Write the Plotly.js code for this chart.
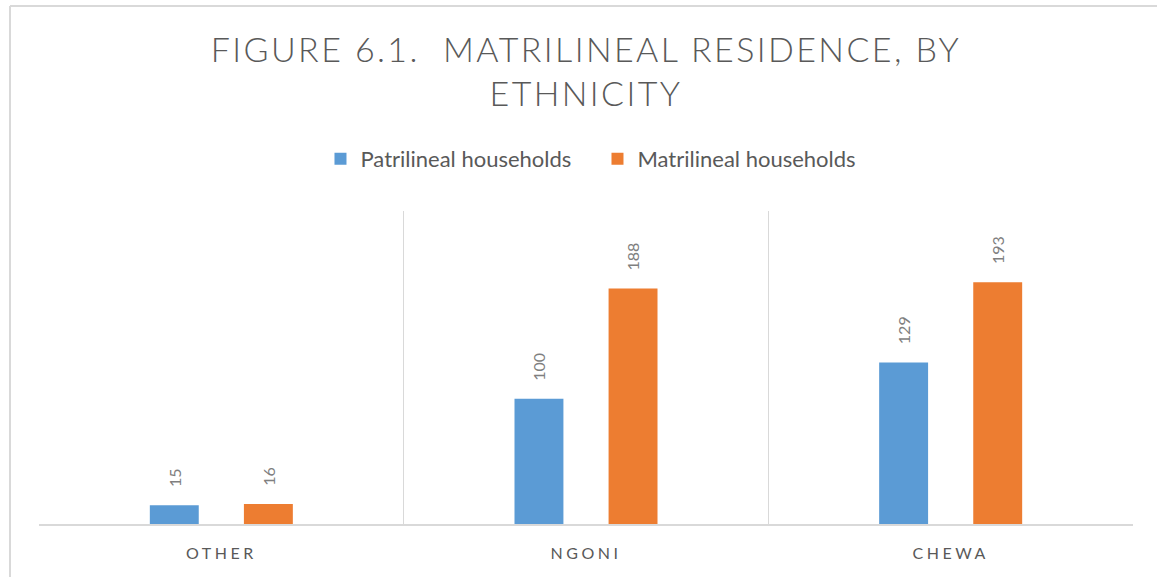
<!DOCTYPE html>
<html>
<head>
<meta charset="utf-8">
<script src="https://cdn.plot.ly/plotly-3.0.1.min.js"></script>
<style>
  body { margin: 0; background: #fff; }
  #chart { width: 1157px; height: 577px; }
  .gtitle { letter-spacing: 2.4px; }
  .xtick text { letter-spacing: 3.5px; }
</style>
</head>
<body>
<div id="chart"></div>
<script>
const categories = ["OTHER", "NGONI", "CHEWA"];
const seriesNames = ["Patrilineal households", "Matrilineal households"];
const patrilineal = [15, 100, 129];
const matrilineal = [16, 188, 193];
const seriesColors = ["#5B9BD5", "#ED7D31"];
const allSeries = [patrilineal, matrilineal];

const FONT = "Lato, 'Open Sans', sans-serif";

const traces = allSeries.map((vals, i) => ({
  type: "bar",
  name: seriesNames[i],
  x: categories,
  y: vals,
  marker: { color: seriesColors[i] },
  hoverinfo: "skip"
}));

const shifts = [-47, 47];
const annotations = [];
allSeries.forEach((vals, i) => {
  vals.forEach((v, j) => {
    annotations.push({
      x: categories[j], y: v, xref: "x", yref: "y",
      text: String(v), showarrow: false, textangle: -90,
      xshift: shifts[i], yshift: 16, yanchor: "bottom", xanchor: "center",
      font: { family: FONT, size: 16, color: "#7f7f7f" }
    });
  });
});

const layout = {
  width: 1157, height: 577,
  margin: { l: 39, r: 24, t: 211, b: 53 },
  paper_bgcolor: "#fff", plot_bgcolor: "#fff",
  title: {
    text: "FIGURE 6.1.  MATRILINEAL RESIDENCE, BY<br>ETHNICITY",
    font: { family: FONT, size: 34, color: "#595959", weight: 300 },
    x: 586 / 1157, xanchor: "center", xref: "container",
    y: 1 - 62/577, yanchor: "top", yref: "container"
  },
  barmode: "group",
  bargap: 0.484,
  bargroupgap: 0.48,
  showlegend: true,
  legend: {
    orientation: "h", x: 0.5105, xanchor: "center", y: 1.166, yanchor: "middle",
    font: { family: FONT, size: 22, color: "#595959" },
    itemwidth: 30, traceorder: "normal",
    entrywidth: 232
  },
  xaxis: {
    type: "category",
    tickson: "boundaries",
    showgrid: true, gridcolor: "#d9d9d9", gridwidth: 1.5,
    showline: true, linecolor: "#d9d9d9", linewidth: 1.5,
    ticks: "", mirror: false,
    tickfont: { family: FONT, size: 16, color: "#595959" },
    ticklabelstandoff: 14,
    fixedrange: true
  },
  yaxis: {
    range: [0, 250],
    showgrid: false, zeroline: false, showline: false, showticklabels: false,
    ticks: "", fixedrange: true
  },
  annotations: annotations,
  shapes: [
    { type: "line", xref: "paper", yref: "paper",
      x0: (10 - 39) / 1094, x1: (10 - 39) / 1094,
      y0: -53 / 313 - 0.01, y1: 1 + (211 - 6) / 313,
      line: { color: "#d9d9d9", width: 2 }, layer: "above" },
    { type: "line", xref: "paper", yref: "paper",
      x0: (10 - 39) / 1094, x1: (1157 - 39) / 1094 + 0.01,
      y0: 1 + (211 - 6) / 313, y1: 1 + (211 - 6) / 313,
      line: { color: "#d9d9d9", width: 2 }, layer: "above" }
  ]
};

Plotly.newPlot("chart", traces, layout, { displayModeBar: false, staticPlot: true });
</script>
</body>
</html>
